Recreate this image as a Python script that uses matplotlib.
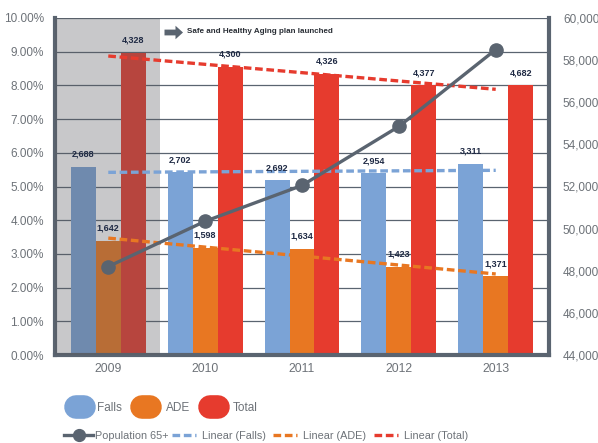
import numpy as np
import matplotlib.pyplot as plt
from matplotlib.lines import Line2D
from matplotlib.patches import FancyArrow
from matplotlib.ticker import FuncFormatter

plt.rcParams['font.family'] = ['Liberation Sans', 'DejaVu Sans']

years = ['2009', '2010', '2011', '2012', '2013']
falls_pct = [5.58, 5.42, 5.19, 5.39, 5.67]
ade_pct = [3.39, 3.18, 3.15, 2.62, 2.34]
total_pct = [8.97, 8.56, 8.34, 8.01, 8.01]
falls_n = ['2,688', '2,702', '2,692', '2,954', '3,311']
ade_n = ['1,642', '1,598', '1,634', '1,423', '1,371']
total_n = ['4,328', '4,300', '4,326', '4,377', '4,682']
population = [48200, 50350, 52050, 54850, 58500]

c_falls = '#7BA3D6'
c_ade = '#E87722'
c_total = '#E63B2E'
c_dark = '#5A6470'
c_text = '#6D7278'
c_label = '#1F2A44'

W, H = 598, 443
fig = plt.figure(figsize=(W / 100, H / 100), dpi=100)
ax = fig.add_axes([55 / W, 1 - 355 / H, 494 / W, 337 / H])
x = np.arange(len(years))
w = 0.258

# bars
for off, vals, labs, col in [(-w, falls_pct, falls_n, c_falls),
                             (0, ade_pct, ade_n, c_ade),
                             (w, total_pct, total_n, c_total)]:
    ax.bar(x + off, vals, w, color=col, zorder=2)
    for xi, v, t in zip(x + off, vals, labs):
        ax.annotate(t, (xi, v), xytext=(0, 9), textcoords='offset points',
                    ha='center', va='center', fontsize=6.5, fontweight='bold',
                    color=c_label, zorder=6)

# shaded 2009 region
ax.axvspan(-0.55, 0.534, color='#585A5F', alpha=0.33, lw=0, zorder=3)

# trend lines
for vals, col in [(falls_pct, c_falls), (ade_pct, c_ade), (total_pct, c_total)]:
    k, b = np.polyfit(x, vals, 1)
    ax.plot(x, k * x + b, color=col, lw=2.4, dashes=(2.3, 1.1), zorder=4)

ax.set_xlim(-0.55, 4.55)
ax.set_ylim(0, 10)
ax.set_yticks(np.arange(0, 10.1, 1))
ax.yaxis.set_major_formatter(FuncFormatter(lambda v, p: f'{v:.2f}%'))
ax.set_xticks(x)
ax.set_xticklabels(years)
ax.grid(axis='y', color=c_dark, lw=0.9, zorder=1)
ax.set_axisbelow(True)
ax.tick_params(axis='y', length=0, labelsize=8.5, colors=c_text, pad=8)
ax.tick_params(axis='x', length=0, labelsize=8.8, colors=c_text, pad=6)
ax.spines['top'].set_visible(False)
ax.spines['right'].set_visible(False)
ax.spines['left'].set_linewidth(3)
ax.spines['bottom'].set_linewidth(3)
ax.spines['left'].set_color(c_dark)
ax.spines['bottom'].set_color(c_dark)

# population line on the right axis
ax2 = ax.twinx()
ax2.plot(x, population, color=c_dark, lw=2.4, marker='o', ms=9.5, zorder=5)
ax2.set_ylim(44000, 60000)
ax2.set_yticks(np.arange(44000, 60001, 2000))
ax2.yaxis.set_major_formatter(FuncFormatter(lambda v, p: f'{int(v):,}'))
ax2.tick_params(length=0, labelsize=8.5, colors=c_text, pad=10)
for s in ['top', 'left', 'bottom']:
    ax2.spines[s].set_visible(False)
ax2.spines['right'].set_linewidth(3)
ax2.spines['right'].set_color(c_dark)

# annotation (block arrow placed in figure inches)
fig.patches.append(FancyArrow(1.645, (H - 32.5) / 100, 0.185, 0, width=0.058,
                              head_width=0.135, head_length=0.075,
                              length_includes_head=True, color=c_dark, lw=0,
                              transform=fig.dpi_scale_trans, figure=fig))
ax.text((187 - 55) / 494, (355 - 31.5) / 337, 'Safe and Healthy Aging plan launched',
        transform=ax.transAxes, fontsize=5.8, fontweight='bold', color='#2A2F36',
        va='center', zorder=6)


# legend, one entry at a time
def add_item(handle, label, x0, y0, hlen, pad, fs):
    em = fs * 100 / 72
    fig.legend([handle], [label], loc='center left', bbox_to_anchor=(x0 / W, 1 - y0 / H),
               frameon=False, fontsize=fs, borderpad=0, borderaxespad=0,
               handlelength=hlen / em, handletextpad=pad / em, labelcolor=c_text)


for col, lab, xs, xt in [(c_falls, 'Falls', 64, 97), (c_ade, 'ADE', 130, 166),
                         (c_total, 'Total', 198, 233)]:
    h = Line2D([0], [0], color=col, lw=17, solid_capstyle='round')
    add_item(h, lab, xs + 12, 408, 8, xt - xs - 20, 8.5)

add_item(Line2D([0], [0], color=c_dark, lw=2.4, marker='o', ms=8.5),
         'Population 65+', 64, 436, 29, 2, 7.8)
for col, lab, xs, xt in [(c_falls, 'Linear (Falls)', 172, 202),
                         (c_ade, 'Linear (ADE)', 273, 303),
                         (c_total, 'Linear (Total)', 374, 404)]:
    h = Line2D([0], [0], color=col, lw=2.4, dashes=(2.3, 1.1))
    add_item(h, lab, xs, 436, 24, xt - xs - 24, 7.8)

fig.savefig('out.png', dpi=100)
